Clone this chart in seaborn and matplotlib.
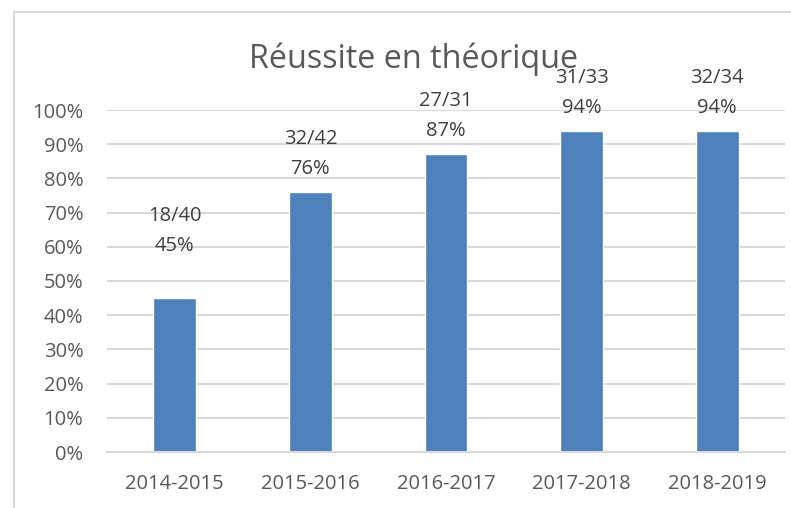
import matplotlib
matplotlib.use('Agg')
import matplotlib.pyplot as plt
from matplotlib.patches import Rectangle
from matplotlib.ticker import PercentFormatter
import seaborn as sns
import pandas as pd

# chart data
seasons = ['2014-2015', '2015-2016', '2016-2017', '2017-2018', '2018-2019']
passed = [18, 32, 27, 31, 32]
totals = [40, 42, 31, 33, 34]
rates = [0.45, 0.76, 0.87, 0.94, 0.94]

BAR = '#4F81BD'
GRID = '#D9D9D9'
TICK = '#595959'
LABEL = '#404040'

sns.set_theme(style='white')
plt.rcParams['font.family'] = ['Open Sans', 'DejaVu Sans']

df = pd.DataFrame({'season': seasons, 'rate': rates})

W, H = 791, 508
fig = plt.figure(figsize=(W / 100, H / 100), dpi=100)
fig.patch.set_facecolor('white')

# light frame around the chart area
fig.add_artist(Rectangle((14 / W, -0.1), 1.2, 1.1 - 12 / H, transform=fig.transFigure,
                         fill=False, edgecolor=GRID, linewidth=1.5))

ax = fig.add_axes([107 / W, (H - 452) / H, 678 / W, 342 / H])
sns.barplot(data=df, x='season', y='rate', color=BAR, saturation=1, width=0.315, ax=ax)

ax.set_ylim(0, 1)
ax.set_xlim(-0.5, len(seasons) - 0.5)
ax.set_yticks([i / 10 for i in range(11)])
ax.yaxis.set_major_formatter(PercentFormatter(1.0, decimals=0))
ax.yaxis.grid(True, color=GRID, linewidth=1.5)
ax.set_axisbelow(True)
for side in ['left', 'right', 'top']:
    ax.spines[side].set_visible(False)
ax.spines['bottom'].set_color(GRID)
ax.spines['bottom'].set_linewidth(1.5)
ax.tick_params(axis='y', length=0, pad=17, labelsize=14.5, labelcolor=TICK)
ax.tick_params(axis='x', length=0, pad=16, labelsize=14.5, labelcolor=TICK)
ax.set_xlabel('')
ax.set_ylabel('')

# two-line labels above bars (first one sits higher in the original)
for i, (p, t, r) in enumerate(zip(passed, totals, rates)):
    lift = 29 if i == 0 else 0
    ax.annotate(f'{round(r * 100)}%', (i, r), xytext=(0, 18 + lift), textcoords='offset pixels',
                ha='center', va='baseline', fontsize=14.5, color=LABEL, annotation_clip=False)
    ax.annotate(f'{p}/{t}', (i, r), xytext=(0, 48 + lift), textcoords='offset pixels',
                ha='center', va='baseline', fontsize=14.5, color=LABEL, annotation_clip=False)

fig.text(414 / W, 1 - 68 / H, 'Réussite en théorique', ha='center', va='baseline',
         fontsize=23.3, color=TICK)

fig.savefig('out.png', dpi=100)
